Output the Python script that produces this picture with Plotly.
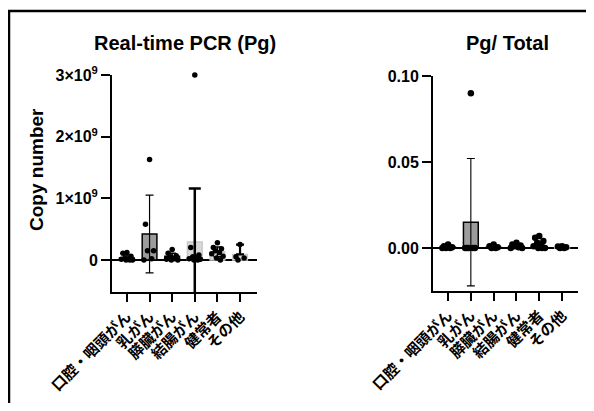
import plotly.graph_objects as go

# figure is placed by the page at (8, 8); keep it inside the 594x411 window
OFF = 8
W, H = 578, 395

categories = ["口腔・咽頭がん", "乳がん", "膵臓がん", "結腸がん", "健常者", "その他"]

# Left panel: Real-time PCR (Pg), copy number (x1e9)
pcr_mean = [0.03, 0.42, 0.06, 0.29, 0.13, 0.09]
pcr_err = [0.05, 0.63, 0.05, 0.87, 0.08, 0.16]
pcr_err_minus = [0.03, 0.63, 0.05, 0.87, 0.08, 0.0]
pcr_points = [
    [0.12, 0.11, 0.06, 0.03, 0.02, 0.01, 0.0, 0.0, 0.0],
    [1.63, 0.58, 0.15, 0.15, 0.02, 0.0],
    [0.17, 0.11, 0.07, 0.05, 0.02, 0.01, 0.0, 0.0],
    [3.0, 0.2, 0.08, 0.05, 0.03, 0.02, 0.01, 0.0, 0.0],
    [0.28, 0.2, 0.18, 0.15, 0.12, 0.1, 0.06, 0.03, 0.0],
    [0.25, 0.05, 0.03, 0.0],
]
pcr_tickvals = [0, 1, 2, 3]
pcr_ticktext = ["0", "1×10<sup>9</sup>", "2×10<sup>9</sup>", "3×10<sup>9</sup>"]

# Right panel: Pg / Total
ratio_mean = [0.0005, 0.015, 0.0004, 0.0005, 0.001, 0.0003]
ratio_err = [0.0008, 0.037, 0.0007, 0.0009, 0.002, 0.0003]
ratio_err_minus = [0.0005, 0.037, 0.0004, 0.0005, 0.001, 0.0003]
ratio_points = [
    [0.002, 0.001, 0.0005, 0.0, 0.0, 0.0],
    [0.09, 0.0, 0.0, 0.0, 0.0, 0.0],
    [0.002, 0.001, 0.0005, 0.0, 0.0],
    [0.003, 0.002, 0.0015, 0.001, 0.0005, 0.0, 0.0],
    [0.007, 0.006, 0.004, 0.003, 0.002, 0.001, 0.0, 0.0, 0.0],
    [0.001, 0.0008, 0.0005, 0.0, 0.0],
]
ratio_tickvals = [0.0, 0.05, 0.10]
ratio_ticktext = ["0.00", "0.05", "0.10"]

# styles
bar_fill = ["#9c9c9c", "#9c9c9c", "#9c9c9c", "#dadada", "#dadada", "#dadada"]
bar_line = ["#000000", "#000000", "#000000", "#c8c8c8", "#c8c8c8", "#c8c8c8"]
left_err_style = [(1.5, 4), (1.2, 4), (1.5, 4), (2.5, 6), (1.5, 4), (2.2, 4)]
right_err_style = [(1.5, 4), (1.1, 4), (1.5, 4), (1.5, 4), (1.5, 4), (1.5, 4)]

JIT = [0.0, -0.18, 0.18, -0.09, 0.09, -0.25, 0.25, -0.04, 0.13, -0.13]


def px(x):
    return (x - OFF) / W


def py(y):
    return 1 - (y - OFF) / H


def jitter(i, pts):
    return [i + JIT[k % len(JIT)] for k in range(len(pts))]


fig = go.Figure()


def add_panel(xa, ya, means, errs, errs_minus, points, err_style, msize):
    fig.add_trace(go.Bar(
        x=list(range(len(means))), y=means, width=0.65,
        marker=dict(color=bar_fill, line=dict(color=bar_line, width=1.5)),
        xaxis=xa, yaxis=ya, showlegend=False, hoverinfo="skip"))
    for i, (m, e, em) in enumerate(zip(means, errs, errs_minus)):
        th, wd = err_style[i]
        fig.add_trace(go.Scatter(
            x=[i], y=[m], mode="markers", marker=dict(size=1, color="rgba(0,0,0,0)"),
            error_y=dict(type="data", array=[e], arrayminus=[em], symmetric=False,
                         visible=True, color="black", thickness=th, width=wd),
            xaxis=xa, yaxis=ya, showlegend=False, hoverinfo="skip"))
    for i, pts in enumerate(points):
        fig.add_trace(go.Scatter(
            x=jitter(i, pts), y=pts, mode="markers",
            marker=dict(color="black", size=msize),
            xaxis=xa, yaxis=ya, showlegend=False, cliponaxis=False, hoverinfo="skip"))


add_panel("x", "y", pcr_mean, pcr_err, pcr_err_minus, pcr_points, left_err_style, 5.5)
add_panel("x2", "y2", ratio_mean, ratio_err, ratio_err_minus, ratio_points, right_err_style, 6.5)

num_font = dict(family="Liberation Sans, Arial", size=16, color="black", weight="bold")
cjk_font = dict(family="Noto Sans CJK JP", size=15, color="black", weight="bold")
title_font = dict(family="Liberation Sans, Arial", size=20, color="black", weight="bold")

xcommon = dict(tickmode="array", tickvals=list(range(6)), ticktext=categories,
               tickangle=-45, ticks="outside", ticklen=8, tickwidth=2, tickcolor="black",
               showline=True, linewidth=2, linecolor="black", showgrid=False,
               zeroline=False, tickfont=cjk_font, fixedrange=True, automargin=False)
ycommon = dict(ticks="outside", ticklen=9, tickwidth=2, tickcolor="black",
               showline=True, linewidth=2, linecolor="black", showgrid=False,
               zeroline=True, zerolinewidth=2, zerolinecolor="black",
               tickfont=num_font, tickmode="array", fixedrange=True, automargin=False)

fig.update_layout(
    template="none",
    width=W, height=H, margin=dict(l=0, r=0, t=0, b=0, pad=0), autosize=False,
    paper_bgcolor="white", plot_bgcolor="rgba(0,0,0,0)",
    xaxis=dict(domain=[px(112), px(257)], range=[-0.66, 5.75], anchor="y", **xcommon),
    yaxis=dict(domain=[py(292), py(75)], range=[-0.52, 3.0], anchor="x",
               tickvals=pcr_tickvals, ticktext=pcr_ticktext, **ycommon),
    xaxis2=dict(domain=[px(433), px(578)], range=[-0.66, 5.7], anchor="y2", **xcommon),
    yaxis2=dict(domain=[py(291), py(76)], range=[-0.025, 0.10], anchor="x2",
                tickvals=ratio_tickvals, ticktext=ratio_ticktext, **ycommon),
    annotations=[
        dict(text="Real-time PCR (Pg)", x=px(185), y=py(43), xref="paper", yref="paper",
             showarrow=False, xanchor="center", yanchor="middle", font=title_font),
        dict(text="Pg/ Total", x=px(507), y=py(43), xref="paper", yref="paper",
             showarrow=False, xanchor="center", yanchor="middle", font=title_font),
        dict(text="Copy number", x=px(36), y=py(170), xref="paper", yref="paper",
             showarrow=False, textangle=-90, xanchor="center", yanchor="middle",
             font=dict(family="Liberation Sans, Arial", size=19, color="black", weight="bold")),
    ],
    shapes=[
        dict(type="line", xref="paper", yref="paper", x0=px(8), x1=1.0, y0=py(11), y1=py(11),
             line=dict(color="black", width=2.5)),
        dict(type="line", xref="paper", yref="paper", x0=px(9), x1=px(9), y0=0, y1=py(11),
             line=dict(color="black", width=2.5)),
    ],
)

fig.write_html("out.html", config={"displayModeBar": False, "staticPlot": True})
